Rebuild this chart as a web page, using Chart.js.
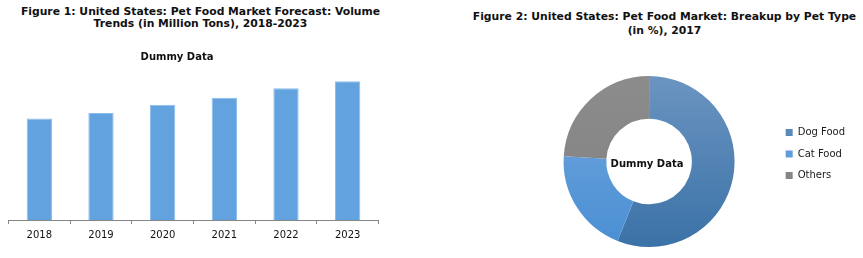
<!DOCTYPE html>
<html>
<head>
<meta charset="utf-8">
<script src="https://cdn.jsdelivr.net/npm/chart.js@4/dist/chart.umd.min.js"></script>
<style>
  html, body { margin: 0; padding: 0; background: #fff; overflow: hidden; }
  body { width: 863px; height: 258px; position: relative; font-family: "DejaVu Sans", Verdana, sans-serif; }
  .fig-title { position: absolute; text-align: center; font-weight: bold; font-size: 10.8px; color: #111; white-space: nowrap; }
  .dummy { position: absolute; font-weight: bold; font-size: 10px; color: #111; white-space: nowrap; transform: translate(-50%, -50%); }
  #barWrap { position: absolute; left: 0; top: 0; width: 390px; height: 258px; }
  #pieWrap { position: absolute; left: 430px; top: 40px; width: 433px; height: 218px; }
</style>
</head>
<body>
<div class="fig-title" style="left:0; top:6px; width:401px; line-height:12px;">Figure 1: United States: Pet Food Market Forecast: Volume<br>Trends (in Million Tons), 2018-2023</div>
<div class="fig-title" style="left:446px; top:10px; width:437px; line-height:14px;">Figure 2: United States: Pet Food Market: Breakup by Pet Type<br>(in %), 2017</div>

<div id="barWrap"><canvas id="volumeChart"></canvas></div>
<div class="dummy" style="left:177px; top:56px;">Dummy Data</div>

<div id="pieWrap"><canvas id="petChart"></canvas></div>
<div class="dummy" style="left:647px; top:163px;">Dummy Data</div>

<script>
// volume trends, million tons
const years = ["2018", "2019", "2020", "2021", "2022", "2023"];
const volumes = [7.4, 7.8, 8.4, 8.9, 9.6, 10.1];

// breakup by pet type, 2017 (%)
const petTypes = ["Dog Food", "Cat Food", "Others"];
const petShares = [56, 20, 24];

const font = { family: "'DejaVu Sans', Verdana, sans-serif", size: 10 };

// top / bottom colour of each slice, shaded like the original office chart
const sliceShades = [
    ["#6b94c1", "#3b72a7"],
    ["#72a7dd", "#4a8fd3"],
    ["#8c8c8c", "#808080"]
];

function sliceColor(c) {
    const pair = sliceShades[c.dataIndex % sliceShades.length];
    const area = c.chart.chartArea;
    if (!area) return pair[1];
    const g = c.chart.ctx.createLinearGradient(0, area.top, 0, area.bottom);
    g.addColorStop(0, pair[0]);
    g.addColorStop(1, pair[1]);
    return g;
}

document.addEventListener("DOMContentLoaded", function () {
    new Chart(document.getElementById('volumeChart'), {
        type: 'bar',
        data: {
            labels: years,
            datasets: [{
                data: volumes,
                backgroundColor: "#62a3df",
                borderColor: "#8cbce9",
                borderWidth: 1,
                categoryPercentage: 1,
                barPercentage: 0.41
            }]
        },
        options: {
            responsive: true,
            maintainAspectRatio: false,
            animation: false,
            events: [],
            layout: { padding: { top: 69, left: 8.5, right: 11.5, bottom: 12 } },
            plugins: { legend: { display: false }, tooltip: { enabled: false } },
            scales: {
                y: { display: false, min: 0, max: 11 },
                x: {
                    grid: { drawOnChartArea: false, color: "#868686", tickLength: 4 },
                    border: { color: "#868686" },
                    ticks: { color: "#111", font: font, padding: 5 }
                }
            }
        }
    });

    new Chart(document.getElementById('petChart'), {
        type: 'doughnut',
        data: {
            labels: petTypes,
            datasets: [{
                data: petShares,
                backgroundColor: sliceColor,
                borderWidth: 0
            }]
        },
        options: {
            responsive: true,
            maintainAspectRatio: false,
            animation: false,
            events: [],
            cutout: '50%',
            layout: { padding: { top: 36, bottom: 11, left: 94, right: 8 } },
            plugins: {
                tooltip: { enabled: false },
                legend: {
                    position: 'right',
                    align: 'start',
                    title: { display: true, text: '', padding: { top: 14, bottom: 14 }, font: font },
                    labels: {
                        boxWidth: 7,
                        boxHeight: 7,
                        padding: 11.5,
                        color: "#1a1a1a",
                        font: font
                    }
                }
            }
        }
    });
});
</script>
</body>
</html>
